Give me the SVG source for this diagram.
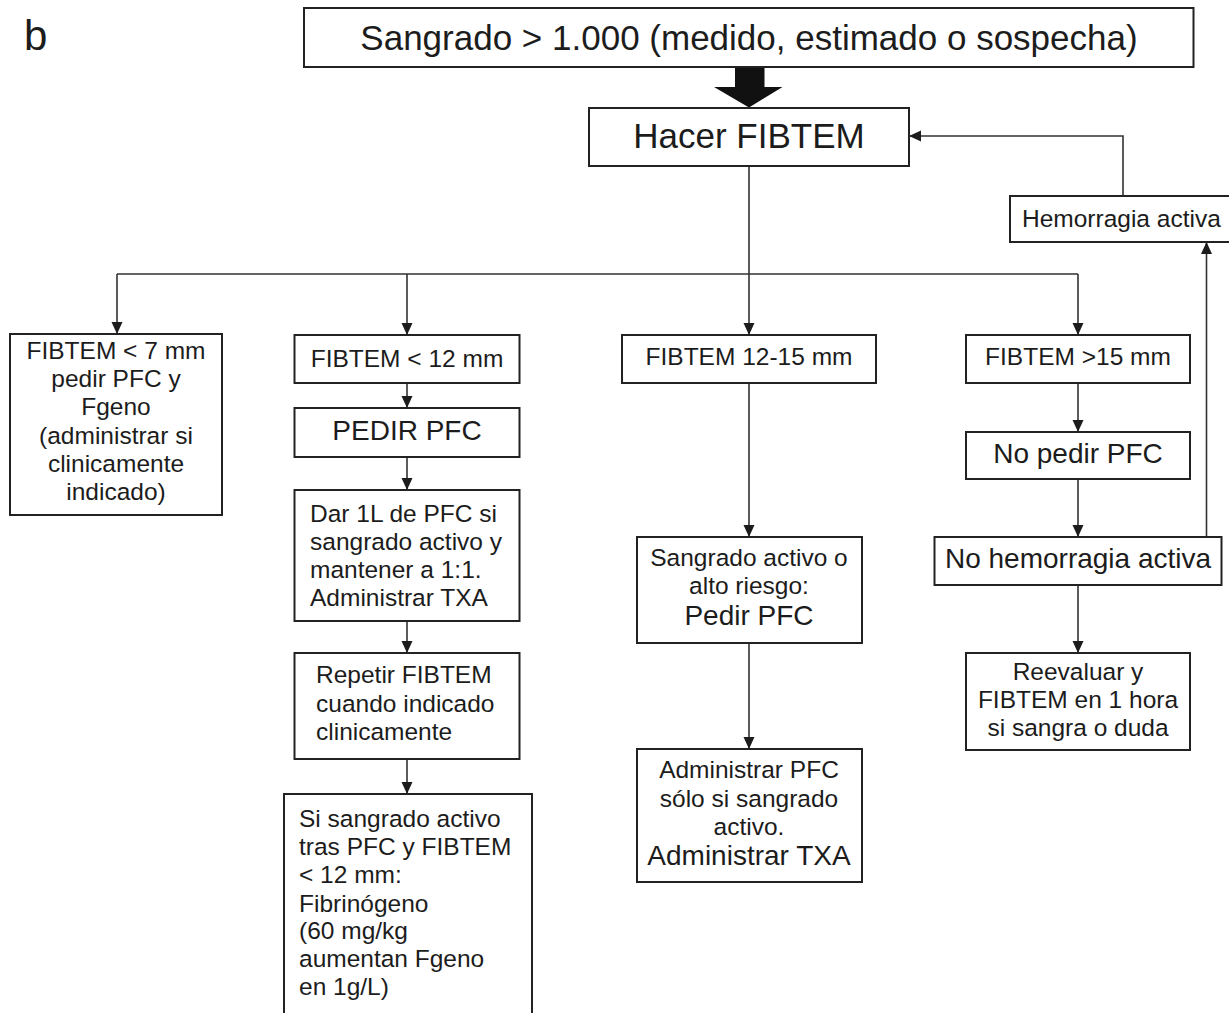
<svg xmlns="http://www.w3.org/2000/svg" width="1229" height="1013" viewBox="0 0 1229 1013">
<style>
text{font-family:"Liberation Sans",Arial,Helvetica,sans-serif;fill:#1c1c1c}
.box{fill:#fff;stroke:#222;stroke-width:2}
.c{text-anchor:middle}
.s{font-size:24.5px}
.m{font-size:28px}
.l{font-size:35px}
.ln{fill:none;stroke:#333;stroke-width:1.6}
.ar{marker-end:url(#ah)}
</style>
<defs>
<marker id="ah" viewBox="0 0 12 12" refX="12" refY="6" markerWidth="12" markerHeight="12" markerUnits="userSpaceOnUse" orient="auto">
<path d="M0,0.5 L12,6 L0,11.5 z" fill="#1c1c1c"/>
</marker>
</defs>
<rect width="1229" height="1013" fill="#fff"/>
<text x="24" y="50" style="font-size:42px">b</text>

<g id="connectors">
<polygon points="735,67 764.5,67 764.5,87 782.5,87 749,107.5 714,87 735,87" fill="#111"/>
<path class="ln" d="M749,166 V274 M117,274 H1078"/>
<path class="ln ar" d="M117,274 V334"/>
<path class="ln ar" d="M407,274 V335"/>
<path class="ln ar" d="M749,274 V335"/>
<path class="ln ar" d="M1078,274 V335"/>
<path class="ln ar" d="M407,383 V408"/>
<path class="ln ar" d="M407,457 V490"/>
<path class="ln ar" d="M407,621 V653"/>
<path class="ln ar" d="M407,759 V794"/>
<path class="ln ar" d="M749,383 V537"/>
<path class="ln ar" d="M749,643 V749"/>
<path class="ln ar" d="M1078,383 V432"/>
<path class="ln ar" d="M1078,479 V537"/>
<path class="ln ar" d="M1078,585 V653"/>
<path class="ln ar" d="M1206.5,537 V242"/>
<path class="ln ar" d="M1123,196 V136 H909"/>
</g>

<g id="n-top">
<rect class="box" x="304" y="8" width="889.5" height="59"/>
<text class="l c" x="749" y="50">Sangrado &gt; 1.000 (medido, estimado o sospecha)</text>
</g>
<g id="n-hacer">
<rect class="box" x="589" y="108" width="320" height="58"/>
<text class="l c" x="749" y="148">Hacer FIBTEM</text>
</g>
<g id="n-hemorragia">
<rect class="box" x="1010" y="196" width="222" height="46"/>
<text class="s" x="1022" y="227">Hemorragia activa</text>
</g>
<g id="n-lt7">
<rect class="box" x="10" y="334" width="212" height="181"/>
<text class="s c" x="116"><tspan x="116" y="359">FIBTEM &lt; 7 mm</tspan><tspan x="116" y="387.2">pedir PFC y</tspan><tspan x="116" y="415.4">Fgeno</tspan><tspan x="116" y="443.6">(administrar si</tspan><tspan x="116" y="471.8">clinicamente</tspan><tspan x="116" y="500">indicado)</tspan></text>
</g>
<g id="n-lt12">
<rect class="box" x="294.5" y="335" width="225" height="48"/>
<text class="s c" x="407" y="366.5">FIBTEM &lt; 12 mm</text>
</g>
<g id="n-pedir">
<rect class="box" x="294.5" y="408" width="225" height="49"/>
<text class="m c" x="407" y="440">PEDIR PFC</text>
</g>
<g id="n-dar">
<rect class="box" x="294.5" y="490" width="225" height="131"/>
<text class="s" x="310"><tspan x="310" y="521.7">Dar 1L de PFC si</tspan><tspan x="310" y="550">sangrado activo y</tspan><tspan x="310" y="578">mantener a 1:1.</tspan><tspan x="310" y="606">Administrar TXA</tspan></text>
</g>
<g id="n-repetir">
<rect class="box" x="294.5" y="653" width="225" height="106"/>
<text class="s" x="316"><tspan x="316" y="683">Repetir FIBTEM</tspan><tspan x="316" y="712">cuando indicado</tspan><tspan x="316" y="740">clinicamente</tspan></text>
</g>
<g id="n-si">
<rect class="box" x="284" y="794" width="248" height="222"/>
<text class="s" x="299"><tspan x="299" y="826.7">Si sangrado activo</tspan><tspan x="299" y="855">tras PFC y FIBTEM</tspan><tspan x="299" y="883.3">&lt; 12 mm:</tspan><tspan x="299" y="911.7">Fibrinógeno</tspan><tspan x="299" y="939.3">(60 mg/kg</tspan><tspan x="299" y="967.3">aumentan Fgeno</tspan><tspan x="299" y="995">en 1g/L)</tspan></text>
</g>
<g id="n-12-15">
<rect class="box" x="622" y="335" width="254" height="48"/>
<text class="s c" x="749" y="365">FIBTEM 12-15 mm</text>
</g>
<g id="n-sangrado">
<rect class="box" x="637" y="537" width="225" height="106"/>
<text class="s c" x="749"><tspan x="749" y="566">Sangrado activo o</tspan><tspan x="749" y="594">alto riesgo:</tspan></text>
<text class="m c" x="749" y="625">Pedir PFC</text>
</g>
<g id="n-administrar">
<rect class="box" x="637" y="749" width="225" height="133"/>
<text class="s c" x="749"><tspan x="749" y="778">Administrar PFC</tspan><tspan x="749" y="806.7">sólo si sangrado</tspan><tspan x="749" y="835">activo.</tspan></text>
<text class="m c" x="749" y="865">Administrar TXA</text>
</g>
<g id="n-gt15">
<rect class="box" x="966" y="335" width="224" height="48"/>
<text class="s c" x="1078" y="365">FIBTEM &gt;15 mm</text>
</g>
<g id="n-nopedir">
<rect class="box" x="966" y="432" width="224" height="47"/>
<text class="m c" x="1078" y="463">No pedir PFC</text>
</g>
<g id="n-nohem">
<rect class="box" x="934.5" y="537" width="287" height="48"/>
<text class="m c" x="1078" y="568">No hemorragia activa</text>
</g>
<g id="n-reevaluar">
<rect class="box" x="966" y="653" width="224" height="97"/>
<text class="s c" x="1078"><tspan x="1078" y="680">Reevaluar y</tspan><tspan x="1078" y="708.3">FIBTEM en 1 hora</tspan><tspan x="1078" y="736">si sangra o duda</tspan></text>
</g>
</svg>
